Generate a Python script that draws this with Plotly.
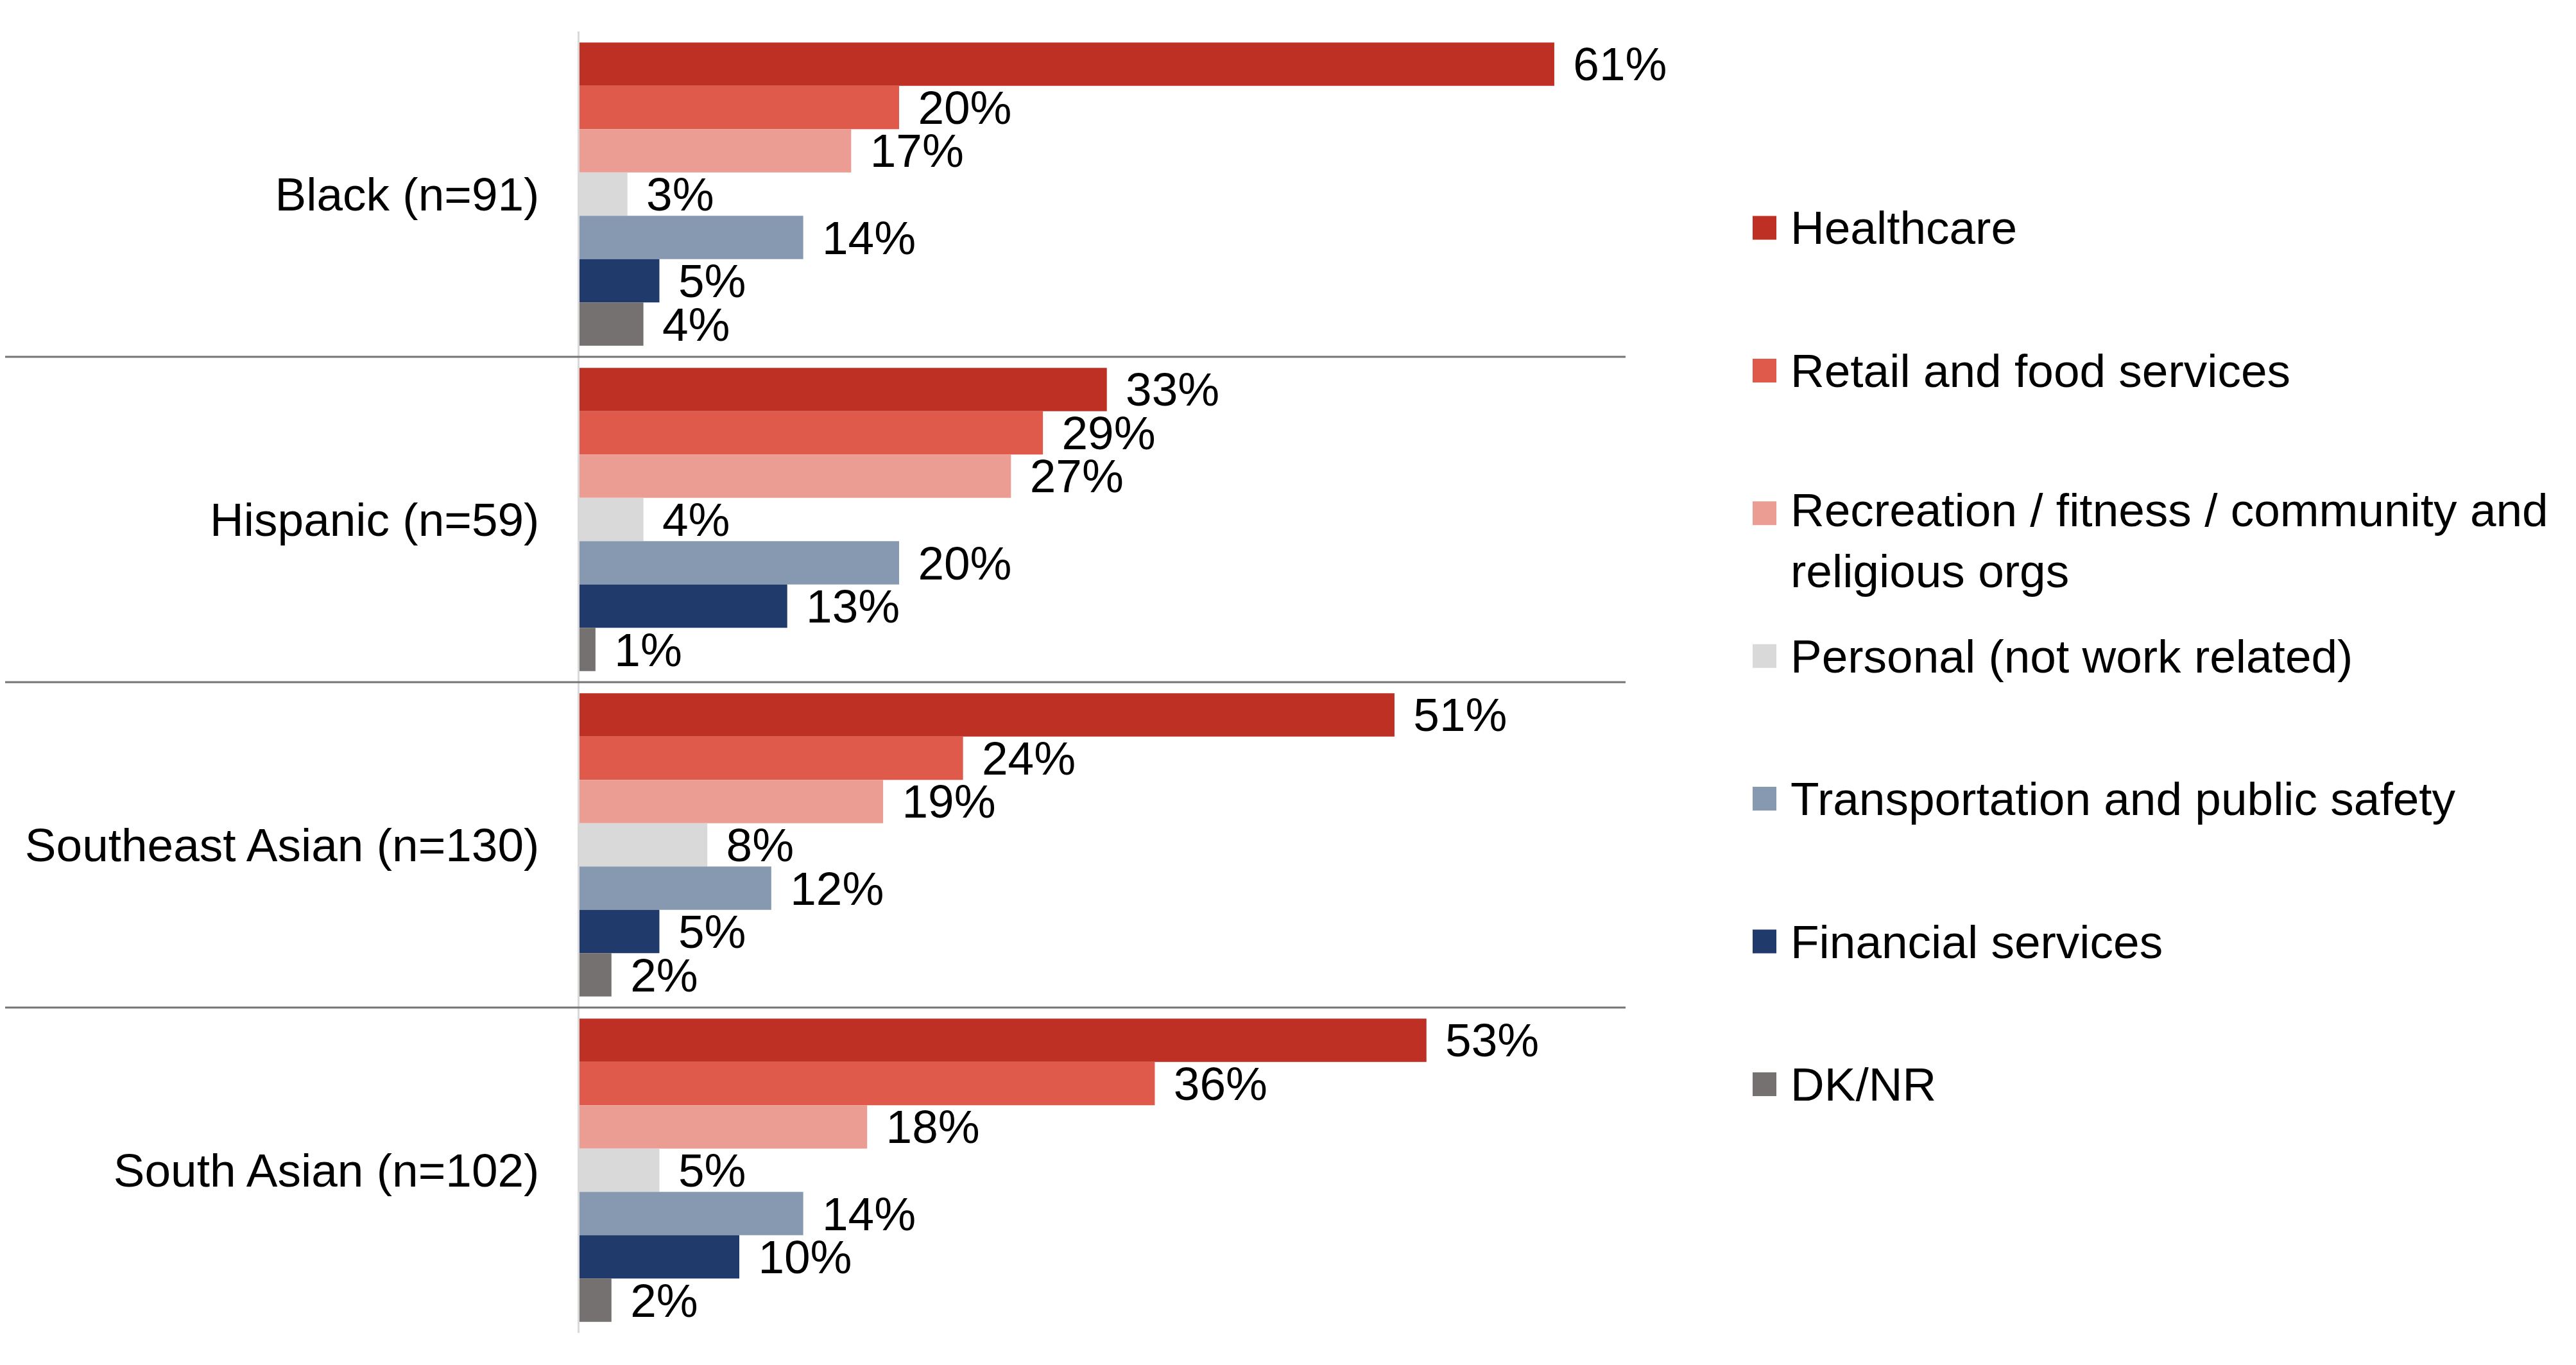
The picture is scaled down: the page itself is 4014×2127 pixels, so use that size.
import plotly.graph_objects as go

# ---- data ----
groups = ["Black (n=91)", "Hispanic (n=59)", "Southeast Asian (n=130)", "South Asian (n=102)"]
series_names = [
    "Healthcare",
    "Retail and food services",
    "Recreation / fitness / community and<br>religious orgs",
    "Personal (not work related)",
    "Transportation and public safety",
    "Financial services",
    "DK/NR",
]
healthcare = [61, 33, 51, 53]
retail = [20, 29, 24, 36]
recreation = [17, 27, 19, 18]
personal = [3, 4, 8, 5]
transportation = [14, 20, 12, 14]
financial = [5, 13, 5, 10]
dknr = [4, 1, 2, 2]
series_values = [healthcare, retail, recreation, personal, transportation, financial, dknr]
colors = ["#BE3024", "#E05A4B", "#EB9C93", "#D9D9D9", "#8799B1", "#1F3A6B", "#767171"]

# ---- layout constants (screen pixels; page body has an 8px margin) ----
W, H = 4014, 2127
OFF = 8
FONT = "Liberation Sans, Arial, sans-serif"
FS = 73
plot_left, plot_right = 903 - OFF, 2533 - OFF
plot_top, plot_bottom = 49 - OFF, 2077 - OFF
x_max = 65.46

fig = go.Figure()
for name, vals, col in zip(series_names, series_values, colors):
    fig.add_trace(go.Bar(
        y=groups, x=vals, orientation="h",
        name=name.replace("<br>", " "),
        marker=dict(color=col, line=dict(width=0)),
        texttemplate="\u00a0\u200a%{x}%",
        textposition="outside",
        textfont=dict(size=FS, color="#000000", family=FONT),
        constraintext="none",
        cliponaxis=False,
        showlegend=False,
        hoverinfo="x+name",
    ))

shapes = []
# separators between category groups (extend under the category labels)
for i in range(len(groups) - 1):
    shapes.append(dict(type="line", xref="paper", yref="y",
                       x0=0, x1=plot_right / W, y0=i + 0.5, y1=i + 0.5,
                       line=dict(color="#757373", width=3)))

# custom legend (large square markers like the original)
annotations = []
leg_first, leg_step = 355 - OFF, 222.4
line_h = FS * 1.3
sq_l, sq_r, txt_x = 2731 - OFF, 2768 - OFF, 2788 - OFF
for k, (name, col) in enumerate(zip(series_names, colors)):
    cy = leg_first + k * leg_step
    shapes.append(dict(type="rect", xref="paper", yref="paper",
                       x0=sq_l / W, x1=sq_r / W,
                       y0=1 - (cy + 18.5) / H, y1=1 - (cy - 18.5) / H,
                       fillcolor=col, line=dict(width=0)))
    nlines = name.count("<br>") + 1
    ty = cy + (nlines - 1) * line_h / 2 - (nlines - 1) * 5.5
    annotations.append(dict(xref="paper", yref="paper", x=txt_x / W, y=1 - ty / H,
                            xanchor="left", yanchor="middle", align="left",
                            text=name, showarrow=False,
                            font=dict(size=FS, color="#000000", family=FONT)))

fig.update_layout(
    width=W, height=H,
    margin=dict(l=0, r=0, t=0, b=0),
    paper_bgcolor="white", plot_bgcolor="white",
    barmode="group", bargap=0.068, bargroupgap=0,
    font=dict(family=FONT, size=FS, color="#000000"),
    shapes=shapes, annotations=annotations,
    showlegend=False,
    xaxis=dict(domain=[plot_left / W, plot_right / W], range=[0, x_max],
               showgrid=False, zeroline=False, showticklabels=False,
               showline=False, ticks=""),
    yaxis=dict(domain=[1 - plot_bottom / H, 1 - plot_top / H],
               categoryorder="array", categoryarray=groups,
               range=[len(groups) - 0.5, -0.5],
               showline=True, linecolor="#D9D9D9", linewidth=3,
               showgrid=False, zeroline=False, ticks="",
               ticklabelstandoff=45,
               tickfont=dict(size=FS, color="#000000", family=FONT)),
)

fig.write_html("out.html")
